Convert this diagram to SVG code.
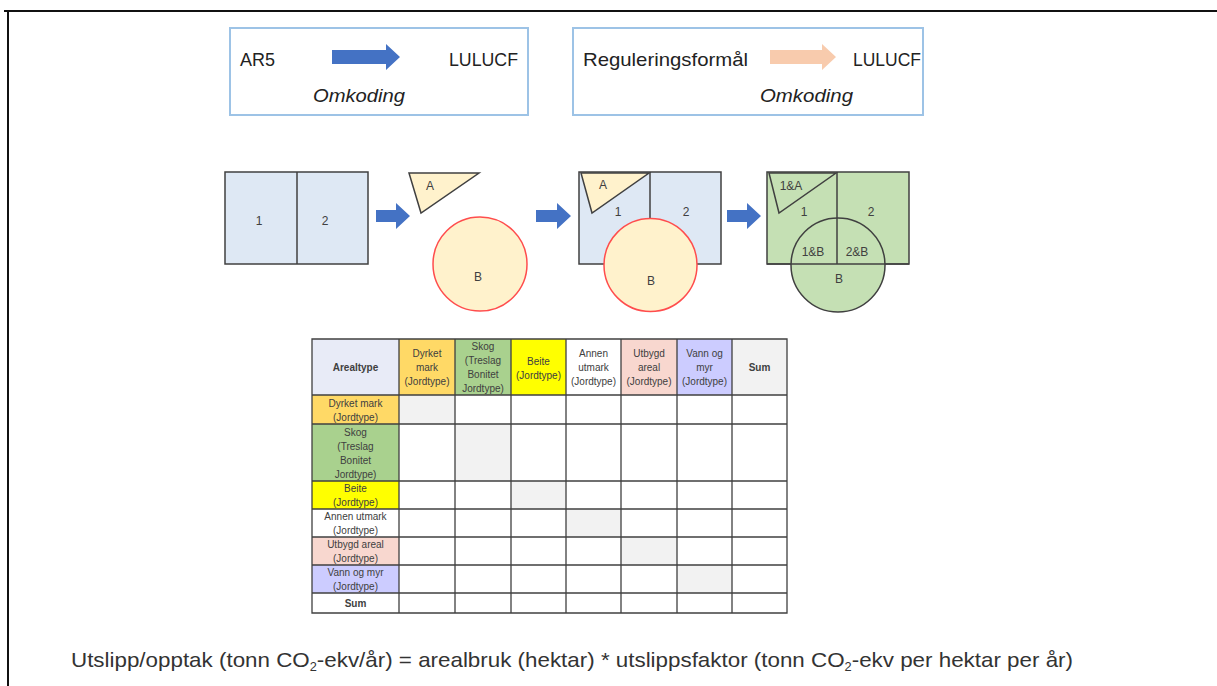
<svg xmlns="http://www.w3.org/2000/svg" width="1217" height="686" viewBox="0 0 1217 686">
<defs>
<style>
.lbl{font-family:"Liberation Sans",Arial,sans-serif;fill:#222;}
.top{font-size:19px;}
.it{font-style:italic;}
.sm{font-family:"Liberation Sans",Arial,sans-serif;font-size:12px;fill:#404040;text-anchor:middle;}
.tb{font-family:"Liberation Sans",Arial,sans-serif;font-size:10px;fill:#404040;text-anchor:middle;}
.b{font-weight:bold;}
.box{fill:#fff;stroke:#9dc3e6;stroke-width:2;}
.sq{stroke:#404040;stroke-width:1.5;}
.arr{fill:#4472c4;}
.grid{stroke:#404040;stroke-width:1.3;fill:none;}
.diag{fill:#f2f2f2;}
</style>
</defs>
<rect width="1217" height="686" fill="#fff"/>
<g id="frame">
<line x1="4" y1="11" x2="1217" y2="11" stroke="#111" stroke-width="2"/>
<line x1="8" y1="10" x2="8" y2="686" stroke="#111" stroke-width="2"/>
</g>
<g id="legend-ar5">
<rect class="box" x="230" y="28" width="298" height="87"/>
<text class="lbl top" x="240" y="66" textLength="35" lengthAdjust="spacingAndGlyphs">AR5</text>
<polygon class="arr" points="332,50 386,50 386,44 400,57 386,70 386,64 332,64"/>
<text class="lbl top" x="449" y="66" textLength="69" lengthAdjust="spacingAndGlyphs">LULUCF</text>
<text class="lbl top it" x="313" y="102" textLength="92" lengthAdjust="spacingAndGlyphs">Omkoding</text>
</g>
<g id="legend-reg">
<rect class="box" x="573" y="28" width="350" height="87"/>
<text class="lbl top" x="583" y="66" textLength="165" lengthAdjust="spacingAndGlyphs">Reguleringsformål</text>
<polygon fill="#f8cbad" points="770,50 822,50 822,44 836,57 822,70 822,64 770,64"/>
<text class="lbl top" x="853" y="66" textLength="68" lengthAdjust="spacingAndGlyphs">LULUCF</text>
<text class="lbl top it" x="760" y="102" textLength="93" lengthAdjust="spacingAndGlyphs">Omkoding</text>
</g>
<g id="step1">
<rect class="sq" x="225" y="172" width="143" height="92" fill="#dee8f4"/>
<line class="sq" x1="297" y1="172" x2="297" y2="264"/>
<text class="sm" x="259" y="225">1</text>
<text class="sm" x="325" y="225">2</text>
</g>
<g id="step2">
<polygon class="sq" points="409,173 479,173 421,213" fill="#fff2cc"/>
<text class="sm" x="430" y="190">A</text>
<circle cx="480" cy="264" r="47" fill="#fff2cc" stroke="#ff4d4d" stroke-width="1.5"/>
<text class="sm" x="478" y="281">B</text>
</g>
<g id="step3">
<rect class="sq" x="579" y="172" width="142" height="92" fill="#dee8f4"/>
<line class="sq" x1="650" y1="172" x2="650" y2="264"/>
<polygon class="sq" points="581,173 649,173 592,213" fill="#fff2cc"/>
<text class="sm" x="603" y="189">A</text>
<text class="sm" x="618" y="216">1</text>
<text class="sm" x="686" y="216">2</text>
<circle cx="650.5" cy="265" r="46.5" fill="#fff2cc" stroke="#ff4d4d" stroke-width="1.5"/>
<text class="sm" x="651" y="285">B</text>
</g>
<g id="step4">
<rect class="sq" x="767" y="172" width="142" height="92" fill="#c5e0b4"/>
<circle cx="838" cy="265" r="47" fill="#c5e0b4" stroke="#404040" stroke-width="1.5"/>
<line class="sq" x1="837" y1="172" x2="837" y2="264"/>
<line class="sq" x1="767" y1="264" x2="909" y2="264"/>
<polygon class="sq" points="769,173 836,173 779,213" fill="#c5e0b4"/>
<text class="sm" x="791" y="190">1&amp;A</text>
<text class="sm" x="804" y="216">1</text>
<text class="sm" x="871" y="216">2</text>
<text class="sm" x="813" y="256">1&amp;B</text>
<text class="sm" x="857" y="256">2&amp;B</text>
<text class="sm" x="839" y="283">B</text>
</g>
<g id="connectors">
<polygon class="arr" points="376,210 396,210 396,203 410,216 396,229 396,222 376,222"/>
<polygon class="arr" points="536,210 557,210 557,203 571,216 557,229 557,222 536,222"/>
<polygon class="arr" points="727,210 747,210 747,203 761,216 747,229 747,222 727,222"/>
</g>
<g id="table">
<rect x="312" y="339" width="87" height="56" fill="#e8ebf7"/>
<rect x="399" y="339" width="56" height="56" fill="#ffd966"/>
<rect x="455" y="339" width="56" height="56" fill="#a9d18e"/>
<rect x="511" y="339" width="55" height="56" fill="#ffff00"/>
<rect x="621" y="339" width="56" height="56" fill="#f8d7cf"/>
<rect x="677" y="339" width="55" height="56" fill="#ccccff"/>
<rect x="732" y="339" width="55" height="56" fill="#f2f2f2"/>
<rect x="312" y="395" width="87" height="29" fill="#ffd966"/>
<rect x="312" y="424" width="87" height="57" fill="#a9d18e"/>
<rect x="312" y="481" width="87" height="28" fill="#ffff00"/>
<rect x="312" y="537" width="87" height="28" fill="#f8d7cf"/>
<rect x="312" y="565" width="87" height="28" fill="#ccccff"/>
<rect class="diag" x="399" y="395" width="56" height="29"/>
<rect class="diag" x="455" y="424" width="56" height="57"/>
<rect class="diag" x="511" y="481" width="55" height="28"/>
<rect class="diag" x="566" y="509" width="55" height="28"/>
<rect class="diag" x="621" y="537" width="56" height="28"/>
<rect class="diag" x="677" y="565" width="55" height="28"/>
<path class="grid" d="M312,339H787V613H312Z M399,339V613 M455,339V613 M511,339V613 M566,339V613 M621,339V613 M677,339V613 M732,339V613 M312,395H787 M312,424H787 M312,481H787 M312,509H787 M312,537H787 M312,565H787 M312,593H787"/>
<text class="tb b" x="355.5" y="371">Arealtype</text>
<text class="tb" x="427" y="357">Dyrket</text><text class="tb" x="427" y="371">mark</text><text class="tb" x="427" y="385">(Jordtype)</text>
<text class="tb" x="483" y="350">Skog</text><text class="tb" x="483" y="364">(Treslag</text><text class="tb" x="483" y="378">Bonitet</text><text class="tb" x="483" y="392">Jordtype)</text>
<text class="tb" x="538.5" y="365">Beite</text><text class="tb" x="538.5" y="379">(Jordtype)</text>
<text class="tb" x="593.5" y="357">Annen</text><text class="tb" x="593.5" y="371">utmark</text><text class="tb" x="593.5" y="385">(Jordtype)</text>
<text class="tb" x="649" y="357">Utbygd</text><text class="tb" x="649" y="371">areal</text><text class="tb" x="649" y="385">(Jordtype)</text>
<text class="tb" x="704.5" y="357">Vann og</text><text class="tb" x="704.5" y="371">myr</text><text class="tb" x="704.5" y="385">(Jordtype)</text>
<text class="tb b" x="759.5" y="371">Sum</text>
<text class="tb" x="355.5" y="407">Dyrket mark</text><text class="tb" x="355.5" y="421">(Jordtype)</text>
<text class="tb" x="355.5" y="436">Skog</text><text class="tb" x="355.5" y="450">(Treslag</text><text class="tb" x="355.5" y="464">Bonitet</text><text class="tb" x="355.5" y="478">Jordtype)</text>
<text class="tb" x="355.5" y="492">Beite</text><text class="tb" x="355.5" y="506">(Jordtype)</text>
<text class="tb" x="355.5" y="520">Annen utmark</text><text class="tb" x="355.5" y="534">(Jordtype)</text>
<text class="tb" x="355.5" y="548">Utbygd areal</text><text class="tb" x="355.5" y="562">(Jordtype)</text>
<text class="tb" x="355.5" y="576">Vann og myr</text><text class="tb" x="355.5" y="590">(Jordtype)</text>
<text class="tb b" x="355.5" y="607">Sum</text>
</g>
<g id="formula">
<text x="71" y="667" font-family="'Liberation Sans',Arial,sans-serif" font-size="21" fill="#333" textLength="1002" lengthAdjust="spacingAndGlyphs">Utslipp/opptak (tonn CO<tspan font-size="12" dy="4">2</tspan><tspan dy="-4">-ekv/år) = arealbruk (hektar) * utslippsfaktor (tonn CO</tspan><tspan font-size="12" dy="4">2</tspan><tspan dy="-4">-ekv per hektar per år)</tspan></text>
</g>
</svg>
